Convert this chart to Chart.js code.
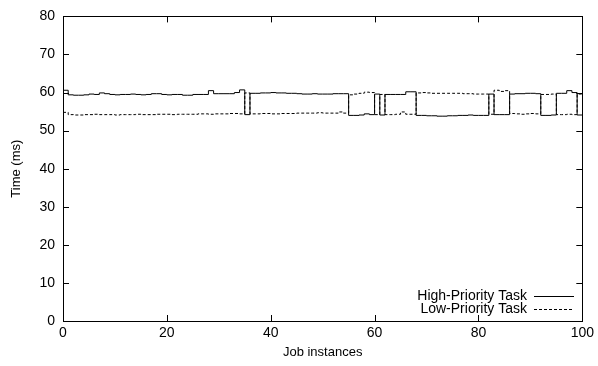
<!DOCTYPE html>
<html>
<head>
<meta charset="utf-8">
<script src="https://cdn.jsdelivr.net/npm/chart.js@4.4.1/dist/chart.umd.min.js"></script>
<style>
    html, body { margin: 0; padding: 0; background: #fff; }
    #wrap { width: 598px; height: 366px; }
</style>
</head>
<body>
<div id="wrap"><canvas id="chart"></canvas></div>
<script>
// job index 0..100
var jobs = []
for (var i = 0; i <= 100; i++) jobs.push(i)

var highPriority = [
    60.6, 59.4, 59.3, 59.3, 59.4, 59.6, 59.5, 59.9, 59.7, 59.5,
    59.4, 59.5, 59.5, 59.6, 59.5, 59.4, 59.5, 59.7, 59.7, 59.5,
    59.4, 59.5, 59.5, 59.3, 59.3, 59.5, 59.5, 59.5, 60.5, 59.7,
    59.7, 59.7, 59.7, 60.0, 60.7, 54.2, 59.8, 59.8, 59.9, 59.9,
    60.0, 59.9, 59.9, 59.8, 59.8, 59.7, 59.6, 59.6, 59.7, 59.6,
    59.6, 59.6, 59.7, 59.7, 59.7, 54.0, 54.0, 54.1, 54.4, 54.2,
    59.6, 54.1, 59.5, 59.5, 59.5, 59.5, 60.2, 60.2, 54.0, 54.0,
    53.9, 53.9, 53.8, 53.8, 53.9, 53.9, 54.0, 54.0, 54.1, 54.0,
    54.0, 54.0, 59.6, 54.2, 54.2, 54.2, 59.6, 59.7, 59.7, 59.8,
    59.8, 59.7, 54.0, 54.0, 54.1, 59.8, 59.8, 60.5, 60.0, 54.1,
    54.1
]

var lowPriority = [
    54.8, 54.2, 54.1, 54.1, 54.2, 54.2, 54.3, 54.2, 54.2, 54.2,
    54.1, 54.2, 54.2, 54.2, 54.3, 54.2, 54.2, 54.2, 54.3, 54.3,
    54.3, 54.2, 54.3, 54.3, 54.3, 54.3, 54.4, 54.4, 54.3, 54.4,
    54.4, 54.4, 54.5, 54.5, 54.4, 59.9, 54.4, 54.4, 54.5, 54.5,
    54.4, 54.4, 54.5, 54.5, 54.5, 54.6, 54.6, 54.6, 54.6, 54.7,
    54.6, 54.6, 54.6, 54.9, 54.6, 59.4, 59.6, 59.8, 60.1, 60.0,
    54.2, 59.5, 54.2, 54.2, 54.3, 54.9, 54.3, 54.3, 59.9, 60.0,
    59.9, 59.8, 59.8, 59.8, 59.8, 59.8, 59.8, 59.7, 59.7, 59.6,
    59.6, 59.6, 54.3, 60.6, 60.3, 60.5, 54.5, 54.4, 54.3, 54.4,
    54.5, 54.4, 59.5, 59.5, 59.6, 54.2, 54.2, 54.3, 54.2, 59.6,
    59.6
]

var xTicks = [0, 20, 40, 60, 80, 100]
var yTicks = [0, 10, 20, 30, 40, 50, 60, 70, 80]

var seriesNames = ["High-Priority Task", "Low-Priority Task"]
var seriesDash = [[], [3, 2]]

var fontFamily = '"Liberation Sans", Arial, sans-serif'

function toPoints(values) {
    return jobs.map((x, i) => ({ x: x, y: values[i] }))
}

// gnuplot style inward ticks on all four sides
var innerTicks = {
    id: 'innerTicks',
    afterDraw(chart) {
        let ctx = chart.ctx
        let a = chart.chartArea
        let xs = chart.scales.x, ys = chart.scales.y
        let len = 6
        ctx.save()
        ctx.strokeStyle = '#000'
        ctx.lineWidth = 1
        ctx.beginPath()
        xTicks.forEach((v) => {
            let px = Math.round(xs.getPixelForValue(v)) + 0.5
            ctx.moveTo(px, a.bottom); ctx.lineTo(px, a.bottom - len)
            ctx.moveTo(px, a.top); ctx.lineTo(px, a.top + len)
        })
        yTicks.forEach((v) => {
            let py = Math.round(ys.getPixelForValue(v)) + 0.5
            ctx.moveTo(a.left, py); ctx.lineTo(a.left + len, py)
            ctx.moveTo(a.right, py); ctx.lineTo(a.right - len, py)
        })
        ctx.stroke()
        ctx.strokeRect(Math.round(a.left) + 0.5, Math.round(a.top) + 0.5, Math.round(a.right - a.left), Math.round(a.bottom - a.top))
        ctx.restore()
    }
}

// legend in lower right, text then line sample
var keyBox = {
    id: 'keyBox',
    afterDraw(chart) {
        let ctx = chart.ctx
        ctx.save()
        ctx.font = '14px ' + fontFamily
        ctx.fillStyle = '#000'
        ctx.textAlign = 'right'
        ctx.textBaseline = 'middle'
        seriesNames.forEach((name, i) => {
            let y = 296 + i * 13
            ctx.fillText(name, 527, y)
            ctx.beginPath()
            ctx.setLineDash(seriesDash[i])
            ctx.lineWidth = 1
            ctx.moveTo(534, y + 0.5)
            ctx.lineTo(574, y + 0.5)
            ctx.stroke()
        })
        ctx.restore()
    }
}

new Chart(document.getElementById('chart').getContext('2d'), {
    type: 'line',
    data: {
        datasets: [{
            label: seriesNames[0],
            data: toPoints(highPriority),
            borderColor: '#000',
            borderWidth: 1,
            pointRadius: 0,
            stepped: 'before',
            fill: false
        }, {
            label: seriesNames[1],
            data: toPoints(lowPriority),
            borderColor: '#000',
            borderWidth: 1,
            borderDash: seriesDash[1],
            pointRadius: 0,
            stepped: 'before',
            fill: false
        }]
    },
    options: {
        responsive: true,
        maintainAspectRatio: false,
        animation: false,
        devicePixelRatio: 1,
        layout: { padding: { top: 10, right: 14, left: 0, bottom: 0 } },
        plugins: {
            legend: { display: false },
            tooltip: { enabled: false }
        },
        scales: {
            x: {
                type: 'linear',
                min: 0,
                max: 100,
                afterFit: (scale) => { scale.height = 45 },
                afterBuildTicks: (scale) => { scale.ticks = xTicks.map(v => ({ value: v })) },
                grid: { display: false, drawTicks: false },
                border: { display: false },
                ticks: {
                    color: '#000',
                    padding: 4,
                    maxRotation: 0,
                    font: { family: fontFamily, size: 14 }
                },
                title: {
                    display: true,
                    text: 'Job instances',
                    color: '#000',
                    padding: { top: 6, bottom: 6 },
                    font: { family: fontFamily, size: 13 }
                }
            },
            y: {
                type: 'linear',
                min: 0,
                max: 80,
                afterFit: (scale) => { scale.width = 63 },
                afterBuildTicks: (scale) => { scale.ticks = yTicks.map(v => ({ value: v })) },
                grid: { display: false, drawTicks: false },
                border: { display: false },
                ticks: {
                    color: '#000',
                    padding: 8,
                    font: { family: fontFamily, size: 14 }
                },
                title: {
                    display: true,
                    text: 'Time (ms)',
                    color: '#000',
                    padding: { top: 9, bottom: 9 },
                    font: { family: fontFamily, size: 13 }
                }
            }
        }
    },
    plugins: [innerTicks, keyBox]
})
</script>
</body>
</html>
